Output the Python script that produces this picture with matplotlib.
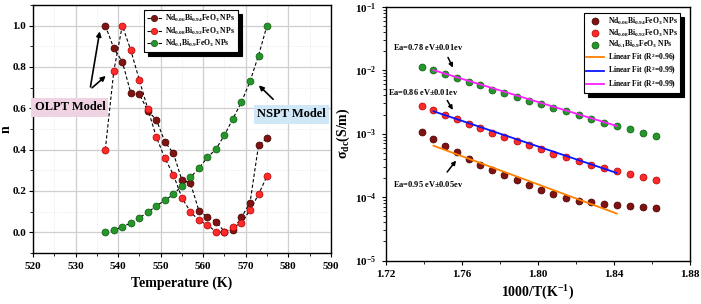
import numpy as np
import matplotlib
matplotlib.use("Agg")
import matplotlib.pyplot as plt
from matplotlib.lines import Line2D
from matplotlib.ticker import MultipleLocator, LogLocator, NullFormatter

plt.rcParams['font.family'] = ['Liberation Serif', 'DejaVu Serif']
plt.rcParams['font.weight'] = 'bold'
plt.rcParams['mathtext.fontset'] = 'custom'
plt.rcParams['mathtext.rm'] = 'Liberation Serif:bold'
plt.rcParams['mathtext.bf'] = 'Liberation Serif:bold'
plt.rcParams['mathtext.it'] = 'Liberation Serif:bold:italic'
plt.rcParams['mathtext.default'] = 'rm'

# ---------------- data: left panel ----------------
temperature = [537, 539, 541, 543, 545, 547, 549, 551, 553, 555,
               557, 559, 561, 563, 565, 567, 569, 571, 573, 575]
n_006 = [1.00, 0.89, 0.825, 0.673, 0.668, 0.587, 0.544, 0.437, 0.382, 0.252,
         0.238, 0.104, 0.074, 0.052, 0.003, 0.012, 0.072, 0.143, 0.42, 0.455]
n_008 = [0.40, 0.78, 1.00, 0.88, 0.736, 0.596, 0.46, 0.358, 0.278, 0.167,
         0.099, 0.057, 0.036, 0.002, 0.0, 0.024, 0.045, 0.107, 0.183, 0.272]
n_010 = [0.0, 0.01, 0.027, 0.044, 0.07, 0.096, 0.128, 0.154, 0.183, 0.225,
         0.265, 0.31, 0.362, 0.402, 0.47, 0.55, 0.63, 0.73, 0.855, 1.0]

# ---------------- data: right panel ----------------
inv_T = [1.7391, 1.7452, 1.7513, 1.7575, 1.7637, 1.7699, 1.7762, 1.7825, 1.7889, 1.7953,
         1.8018, 1.8083, 1.8149, 1.8215, 1.8282, 1.8349, 1.8416, 1.8484, 1.8553, 1.8622]
log_sig_006 = [-2.98, -3.09, -3.196, -3.295, -3.395, -3.495, -3.58, -3.66, -3.735, -3.817,
               -3.885, -3.948, -4.017, -4.065, -4.08, -4.106, -4.128, -4.144, -4.153, -4.175]
log_sig_008 = [-2.569, -2.632, -2.70, -2.763, -2.842, -2.91, -2.99, -3.054, -3.117, -3.185,
               -3.248, -3.316, -3.37, -3.43, -3.49, -3.543, -3.595, -3.638, -3.686, -3.738]
log_sig_010 = [-1.948, -2.0, -2.063, -2.12, -2.185, -2.24, -2.305, -2.363, -2.42, -2.48,
               -2.537, -2.596, -2.65, -2.71, -2.77, -2.826, -2.88, -2.927, -2.985, -3.04]
fit_x = [1.7452, 1.8416]
fit_log_006 = [-3.19, -4.26]
fit_log_008 = [-2.648, -3.62]
fit_log_010 = [-2.0, -2.88]

sig_006 = [10 ** v for v in log_sig_006]
sig_008 = [10 ** v for v in log_sig_008]
sig_010 = [10 ** v for v in log_sig_010]
fit_006 = [10 ** v for v in fit_log_006]
fit_008 = [10 ** v for v in fit_log_008]
fit_010 = [10 ** v for v in fit_log_010]

labels = [r'Nd$_{0.06}$Bi$_{0.94}$FeO$_{3}$ NPs',
          r'Nd$_{0.08}$Bi$_{0.92}$FeO$_{3}$ NPs',
          r'Nd$_{0.1}$Bi$_{0.9}$FeO$_{3}$ NPs']
fit_labels = [r'Linear Fit (R$^{2}$=0.96)', r'Linear Fit (R$^{2}$=0.99)',
              r'Linear Fit (R$^{2}$=0.99)']

c_dark = '#801212'
c_red = '#ff2a2a'
c_green = '#24962a'
edges = ['#420000', '#b00000', '#0e5a10']
cols = [c_dark, c_red, c_green]

fig = plt.figure(figsize=(7.01, 3.04), dpi=100)

# ---------------- left panel ----------------
ax1 = fig.add_axes([0.047, 0.168, 0.425, 0.816])
ax1.set_xlim(520, 590)
ax1.set_ylim(-0.1, 1.1)
ax1.xaxis.set_major_locator(MultipleLocator(10))
ax1.xaxis.set_minor_locator(MultipleLocator(5))
ax1.yaxis.set_major_locator(MultipleLocator(0.2))
ax1.yaxis.set_minor_locator(MultipleLocator(0.1))
ax1.grid(True, which='major', color='#cfcfcf', lw=0.9)
ax1.grid(True, which='minor', color='#e4e4e4', lw=0.6, ls=':')
ax1.set_axisbelow(True)

handles = []
for ys, c, e, lab in zip([n_006, n_008, n_010], cols, edges, labels):
    ax1.plot(temperature, ys, ls='--', color='k', lw=0.8, dashes=(3, 2), zorder=2)
    ax1.plot(temperature, ys, ls='none', marker='o', ms=5, mfc=c, mec=e, mew=0.5, zorder=3)
    handles.append(Line2D([], [], ls='--', color='k', lw=0.8, dashes=(3, 2),
                          marker='o', ms=4.5, mfc=c, mec=e, mew=0.5, label=lab))
leg1 = ax1.legend(handles=handles, loc='upper left', bbox_to_anchor=(0.36, 0.995),
                  fontsize=5.5, frameon=True, fancybox=False, edgecolor='k',
                  handlelength=2.0, handletextpad=0.4, borderpad=0.35, labelspacing=0.2,
                  shadow={'ox': 3, 'oy': -3, 'color': 'k', 'alpha': 1})
leg1.get_frame().set_linewidth(0.8)

ax1.text(528.7, 0.604, 'OLPT Model', fontsize=9, fontweight='bold', ha='center', va='center',
         bbox=dict(boxstyle='square,pad=0.25', fc='#f0d3e3', ec='none'))
ax1.text(580.8, 0.57, 'NSPT Model', fontsize=9, fontweight='bold', ha='center', va='center',
         bbox=dict(boxstyle='square,pad=0.25', fc='#cfe7f6', ec='none'))
arrow = dict(arrowstyle='-|>', color='k', lw=1.2, mutation_scale=7)
ax1.annotate('', xy=(535.8, 0.985), xytext=(533.4, 0.69), arrowprops=arrow)
ax1.annotate('', xy=(537.6, 0.765), xytext=(533.4, 0.69), arrowprops=arrow)
ax1.annotate('', xy=(572.6, 0.72), xytext=(576.9, 0.634), arrowprops=arrow)

ax1.set_xlabel('Temperature (K)', fontsize=10, fontweight='bold', labelpad=4)
ax1.set_ylabel('n', fontsize=10, fontweight='bold')
ax1.yaxis.set_label_coords(-0.068, 0.5)
ax1.tick_params(axis='both', which='both', direction='out', labelsize=8)
ax1.tick_params(axis='y', pad=2)
ax1.tick_params(which='major', length=3)
ax1.tick_params(which='minor', length=2)
ax1.set_yticks([0.0, 0.2, 0.4, 0.6, 0.8, 1.0])
ax1.set_yticklabels(['0.0', '0.2', '0.4', '0.6', '0.8', '1.0'])
for s in ax1.spines.values():
    s.set_linewidth(1.0)

# ---------------- right panel ----------------
ax2 = fig.add_axes([0.55, 0.143, 0.434, 0.835])
ax2.set_yscale('log')
ax2.set_xlim(1.72, 1.88)
ax2.set_ylim(1e-5, 1e-1)
ax2.xaxis.set_major_locator(MultipleLocator(0.04))
ax2.xaxis.set_minor_locator(MultipleLocator(0.02))
ax2.yaxis.set_minor_locator(LogLocator(base=10, subs=np.arange(2, 10)))
ax2.yaxis.set_minor_formatter(NullFormatter())
ax2.set_yticks([1e-5, 1e-4, 1e-3, 1e-2, 1e-1])
ax2.set_yticklabels([r'10$^{-5}$', r'10$^{-4}$', r'10$^{-3}$', r'10$^{-2}$', r'10$^{-1}$'])
ax2.set_xticks([1.72, 1.76, 1.80, 1.84, 1.88])
ax2.set_xticklabels(['1.72', '1.76', '1.80', '1.84', '1.88'])

h2 = []
for ys, c, e, lab in zip([sig_006, sig_008, sig_010], cols, edges, labels):
    ln, = ax2.plot(inv_T, ys, ls='none', marker='o', ms=5, mfc=c, mec=e, mew=0.5,
                   label=lab, zorder=3)
    h2.append(ln)
for ys, c, lab in zip([fit_006, fit_008, fit_010], ['#ff8000', '#0a14ff', '#ff20ff'], fit_labels):
    ln, = ax2.plot(fit_x, ys, color=c, lw=1.3, label=lab, zorder=4)
    h2.append(ln)
leg2 = ax2.legend(handles=h2, loc='upper right', bbox_to_anchor=(0.98, 0.99),
                  fontsize=5.5, frameon=True, fancybox=False, edgecolor='k',
                  handlelength=2.3, handletextpad=0.5, borderpad=0.3, labelspacing=0.1,
                  shadow={'ox': 3, 'oy': -3, 'color': 'k', 'alpha': 1})
leg2.get_frame().set_linewidth(0.8)

ax2.text(1.7425, 10 ** -1.63, r'Ea=0.78 eV$\pm$0.01ev', fontsize=6, ha='center', va='center')
ax2.text(1.7395, 10 ** -2.34, r'Ea=0.86 eV$\pm$0.01ev', fontsize=6, ha='center', va='center')
ax2.text(1.7425, 10 ** -3.79, r'Ea=0.95 eV$\pm$0.05ev', fontsize=6, ha='center', va='center')
arr2 = dict(arrowstyle='-|>', color='k', lw=1.1, mutation_scale=6)
ax2.annotate('', xy=(1.7561, 10 ** -2.0), xytext=(1.7522, 10 ** -1.76), arrowprops=arr2)
ax2.annotate('', xy=(1.7561, 10 ** -2.665), xytext=(1.7517, 10 ** -2.44), arrowprops=arr2)
ax2.annotate('', xy=(1.7580, 10 ** -3.39), xytext=(1.7515, 10 ** -3.64), arrowprops=arr2)

ax2.set_xlabel(r'1000/T(K$^{-1}$)', fontsize=10, fontweight='bold', labelpad=4)
ax2.set_ylabel(r'$\mathrm{\sigma}_{\mathrm{dc}}$(S/m)', fontsize=10, fontweight='bold', labelpad=2)
ax2.tick_params(axis='both', which='both', direction='out', labelsize=8)
ax2.tick_params(which='major', length=3)
ax2.tick_params(which='minor', length=2)
for s in ax2.spines.values():
    s.set_linewidth(1.0)

fig.savefig('out.png', dpi=100)
